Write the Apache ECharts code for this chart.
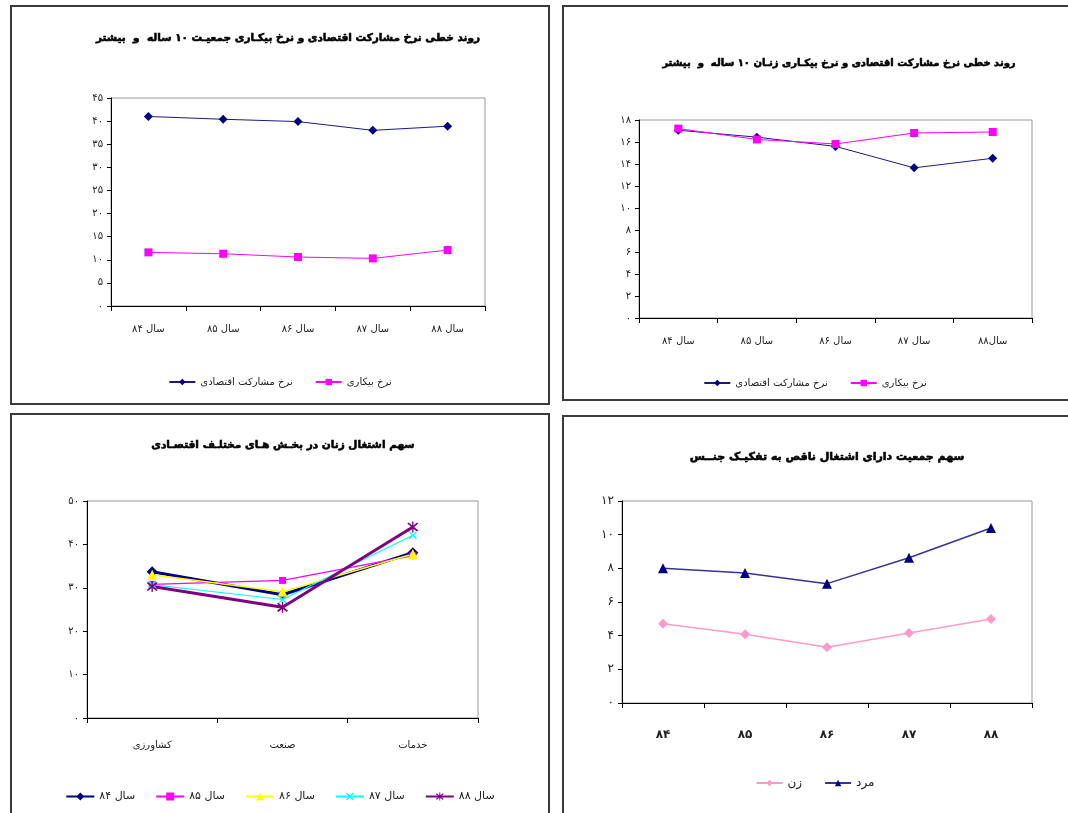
<!DOCTYPE html>
<html>
<head>
<meta charset="utf-8">
<script src="https://cdn.jsdelivr.net/npm/echarts@6/dist/echarts.min.js"></script>
<style>
  html, body { margin: 0; padding: 0; background: #fff; }
  body { width: 1068px; height: 813px; position: relative; overflow: hidden; }
  .chart { position: absolute; }
  .frame { position: absolute; border: 2px solid #3a3a3a; box-sizing: border-box; pointer-events: none; }
</style>
</head>
<body>
<div class="chart" id="c1" style="left:10px;top:5px;width:540px;height:400px"></div>
<div class="frame" style="left:10px;top:5px;width:540px;height:400px"></div>
<div class="chart" id="c2" style="left:562px;top:5px;width:506px;height:396px"></div>
<div class="frame" style="left:562px;top:5px;width:508px;height:396px"></div>
<div class="chart" id="c3" style="left:10px;top:413px;width:540px;height:402px"></div>
<div class="frame" style="left:10px;top:413px;width:540px;height:404px"></div>
<div class="chart" id="c4" style="left:562px;top:415px;width:506px;height:400px"></div>
<div class="frame" style="left:562px;top:415px;width:508px;height:402px"></div>
<script>
  // سال ها
  const years = ['سال ۸۴', 'سال ۸۵', 'سال ۸۶', 'سال ۸۷', 'سال ۸۸']
  const years2 = ['سال ۸۴', 'سال ۸۵', 'سال ۸۶', 'سال ۸۷', 'سال۸۸']
  const yearsShort = ['۸۴', '۸۵', '۸۶', '۸۷', '۸۸']
  const sectors = ['کشاورزی', 'صنعت', 'خدمات']

  // نمودار ۱: جمعیت ۱۰ ساله و بیشتر
  const totalParticipation = [41.0, 40.4, 39.9, 38.0, 38.9]
  const totalUnemployment = [11.6, 11.3, 10.6, 10.3, 12.1]

  // نمودار ۲: زنان ۱۰ ساله و بیشتر
  const womenParticipation = [17.07, 16.44, 15.6, 13.65, 14.52]
  const womenUnemployment = [17.22, 16.23, 15.82, 16.82, 16.91]

  // نمودار ۳: سهم اشتغال زنان در بخش ها
  const share84 = [33.7, 28.4, 38.1]
  const share85 = [30.8, 31.7, 37.4]
  const share86 = [33.0, 29.1, 37.8]
  const share87 = [30.7, 27.3, 42.1]
  const share88 = [30.3, 25.5, 44.0]

  // نمودار ۴: اشتغال ناقص
  const underWomen = [4.71, 4.08, 3.31, 4.16, 4.99]
  const underMen = [8.0, 7.72, 7.09, 8.63, 10.4]

  const FONT = "'DejaVu Sans', sans-serif"
  const faDigits = v => String(v).replace(/\d/g, d => '۰۱۲۳۴۵۶۷۸۹'[d])
  const xMark = 'path://M0,1.2 L1.2,0 L5,3.8 L8.8,0 L10,1.2 L6.2,5 L10,8.8 L8.8,10 L5,6.2 L1.2,10 L0,8.8 L3.8,5 Z'
  const starMark = 'path://M0,1.2 L1.2,0 L5,3.8 L8.8,0 L10,1.2 L6.2,5 L10,8.8 L8.8,10 L5,6.2 L1.2,10 L0,8.8 L3.8,5 Z M4.4,-1 L5.6,-1 L5.6,11 L4.4,11 Z'

  function baseOption(o) {
    return {
      animation: false,
      textStyle: {fontFamily: FONT},
      title: {
        text: o.title,
        left: o.titleX,
        top: o.titleY,
        textAlign: 'center',
        textStyle: {
          fontFamily: FONT, fontWeight: 'bold', fontSize: o.titleSize || 12, color: '#000',
          textBorderColor: '#000', textBorderWidth: 0.6
        }
      },
      grid: Object.assign({show: true, borderColor: '#999', borderWidth: 1, backgroundColor: '#fff'}, o.grid),
      legend: {
        data: o.legend,
        left: o.legendX,
        top: o.legendY,
        itemWidth: o.legendItemWidth || 26,
        itemHeight: o.legendItemHeight || 8,
        itemGap: o.legendGap || 22,
        textStyle: {fontFamily: FONT, fontSize: o.legendSize || 10, color: '#222'}
      },
      xAxis: {
        type: 'category',
        data: o.x,
        boundaryGap: true,
        axisLine: {lineStyle: {color: '#000', width: 1}},
        axisTick: {show: true, length: 5, lineStyle: {color: '#000'}},
        axisLabel: {color: '#222', fontSize: o.xSize || 10, margin: o.xMargin || 18, fontWeight: o.xWeight || 'normal', fontFamily: FONT},
        splitLine: {show: false}
      },
      yAxis: {
        type: 'value',
        min: 0,
        max: o.yMax,
        interval: o.yStep,
        axisLine: {show: true, lineStyle: {color: '#000', width: 1}},
        axisTick: {show: true, length: 4, lineStyle: {color: '#000'}},
        axisLabel: {color: '#222', fontSize: o.ySize || 10, margin: 8, formatter: faDigits, fontFamily: FONT},
        splitLine: {show: false}
      },
      series: o.series
    }
  }

  function lineSeries(name, data, color, symbol, size, width, lineColor) {
    return {
      name: name,
      type: 'line',
      data: data,
      symbol: symbol,
      symbolSize: size,
      lineStyle: {color: lineColor || color, width: width},
      itemStyle: {color: color, borderWidth: 0},
      emphasis: {disabled: true}
    }
  }

  const c1 = echarts.init(document.getElementById('c1'))
  c1.setOption(baseOption({
    title: 'روند خطی نرخ مشارکت اقتصادی و نرخ بیکـاری جمعیـت ۱۰ ساله  و  بیشتر',
    titleX: 273, titleY: 23, titleSize: 10.5,
    grid: {left: 101, right: 65, top: 93, bottom: 99},
    legend: ['نرخ مشارکت اقتصادی', 'نرخ بیکاری'],
    legendX: 'center', legendY: 367,
    x: years, yMax: 45, yStep: 5,
    series: [
      lineSeries('نرخ مشارکت اقتصادی', totalParticipation, '#000080', 'diamond', 9, 1, '#1a1a80'),
      lineSeries('نرخ بیکاری', totalUnemployment, '#ff00ff', 'rect', 8, 1)
    ]
  }))

  const c2 = echarts.init(document.getElementById('c2'))
  c2.setOption(baseOption({
    title: 'روند خطی نرخ مشارکت اقتصادی و نرخ بیکـاری زنـان ۱۰ ساله  و  بیشتر',
    titleX: 272, titleY: 48, titleSize: 10,
    grid: {left: 77, right: 36, top: 115, bottom: 83},
    legend: ['نرخ مشارکت اقتصادی', 'نرخ بیکاری'],
    legendX: 'center', legendY: 368,
    x: years2, yMax: 18, yStep: 2,
    series: [
      lineSeries('نرخ مشارکت اقتصادی', womenParticipation, '#000080', 'diamond', 9, 1, '#1a1a80'),
      lineSeries('نرخ بیکاری', womenUnemployment, '#ff00ff', 'rect', 8, 1)
    ]
  }))

  const c3 = echarts.init(document.getElementById('c3'))
  c3.setOption(baseOption({
    title: 'سهم اشتغال زنان در بخـش هـای مختلـف اقتصـادی',
    titleX: 268, titleY: 22, titleSize: 10.5,
    grid: {left: 77, right: 72, top: 88, bottom: 97},
    legend: ['سال ۸۴', 'سال ۸۵', 'سال ۸۶', 'سال ۸۷', 'سال ۸۸'],
    legendX: 'center', legendY: 373, legendItemWidth: 28, legendItemHeight: 10, legendGap: 20, legendSize: 11,
    x: sectors, yMax: 50, yStep: 10, xMargin: 22,
    series: [
      lineSeries('سال ۸۴', share84, '#000080', 'diamond', 11, 3),
      lineSeries('سال ۸۵', share85, '#ff00ff', 'rect', 7, 1.2),
      lineSeries('سال ۸۶', share86, '#ffff00', 'triangle', 10, 1.5),
      lineSeries('سال ۸۷', share87, '#00ffff', xMark, 8, 1.2),
      lineSeries('سال ۸۸', share88, '#800080', starMark, 11, 3)
    ]
  }))

  const c4 = echarts.init(document.getElementById('c4'))
  c4.setOption(baseOption({
    title: 'سهم جمعیت دارای اشتغال ناقص به تفکیـک جنــس',
    titleX: 260, titleY: 32, titleSize: 11,
    grid: {left: 60, right: 36, top: 86, bottom: 112},
    legend: ['زن', 'مرد'],
    legendX: 'center', legendY: 357, legendSize: 12,
    x: yearsShort, yMax: 12, yStep: 2, xSize: 12, xMargin: 26, xWeight: 'bold', ySize: 12,
    series: [
      lineSeries('زن', underWomen, '#ff99cc', 'diamond', 10, 1.5),
      lineSeries('مرد', underMen, '#000080', 'triangle', 10, 1.5, '#333399')
    ]
  }))
</script>
</body>
</html>
